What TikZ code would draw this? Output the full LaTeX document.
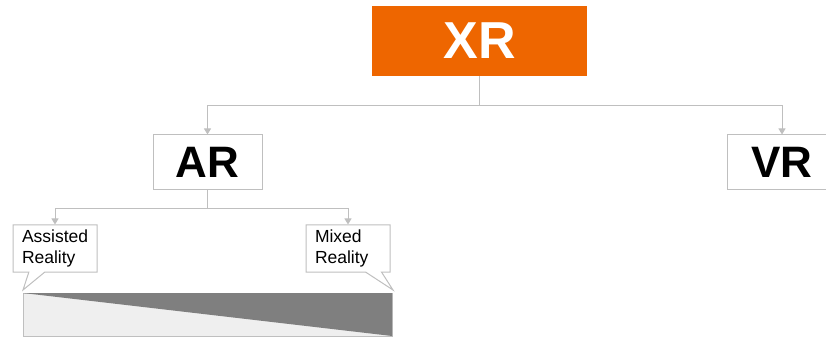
\documentclass[tikz,border=0pt]{standalone}
\usepackage{fontspec}
\setmainfont{Liberation Sans}
\usetikzlibrary{arrows.meta,shapes.callouts}
\definecolor{xrorange}{RGB}{238,102,0}
\definecolor{linegray}{RGB}{191,191,191}
\definecolor{barlight}{RGB}{239,239,239}
\definecolor{bardark}{RGB}{127,127,127}
\tikzset{
  conn/.style={draw=linegray,line width=1pt,-{Triangle[width=7pt,length=6pt]}},
  topbox/.style={fill=xrorange,text=white,minimum width=215pt,minimum height=70pt,
    font=\bfseries\fontsize{52}{52}\selectfont},
  kindbox/.style={draw=linegray,line width=1pt,fill=white,minimum width=109pt,minimum height=55pt,
    font=\bfseries\fontsize{44}{44}\selectfont},
  note/.style={rectangle callout,draw=linegray,line width=1pt,fill=white,
    minimum width=84pt,minimum height=47pt,text width=66pt,inner xsep=9pt,align=left,
    callout pointer width=16pt,font=\fontsize{17.5}{21}\selectfont}
}
\begin{document}
\begin{tikzpicture}[x=1pt,y=1pt]
   \useasboundingbox (0,0) rectangle (826,340);
   \clip (0,0) rectangle (826,340);
   \draw[linegray,line width=1pt,fill=barlight] (23,4) rectangle (392,47);
   \fill[bardark] (23,47) -- (392,47) -- (392,4) -- cycle;
   \coordinate (barleft) at (23,50);
   \coordinate (barright) at (393,50);
   \node[topbox] (xr) at (479.5,299) {XR};
   \node[kindbox] (ar) at (207.5,177.5) {AR};
   \node[kindbox,minimum width=110pt] (vr) at (782,177.5) {VR};
   \node[note,callout absolute pointer={(barleft)}] (assisted) at (55,91.5) {Assisted Reality};
   \node[note,callout absolute pointer={(barright)}] (mixed) at (348,91.5) {Mixed Reality};
   \draw[conn] (xr.south) -- ++(0,-29) -| (ar.north);
   \draw[conn] (xr.south) -- ++(0,-29) -| (vr.north);
   \draw[conn] (ar.south) -- ++(0,-18) -| (assisted.north);
   \draw[conn] (ar.south) -- ++(0,-18) -| (mixed.north);
  \end{tikzpicture}
\end{document}
